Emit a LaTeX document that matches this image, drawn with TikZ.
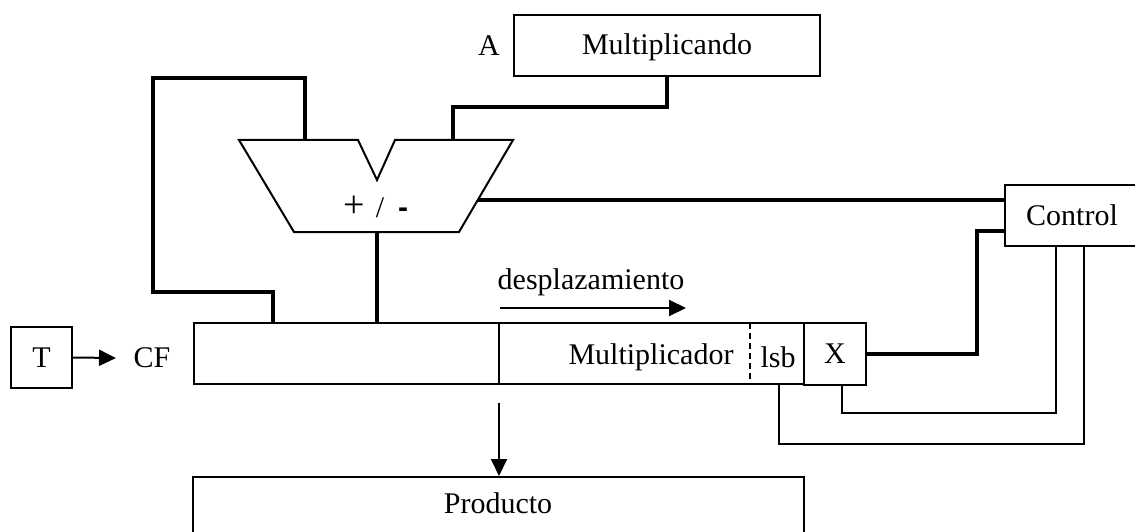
\documentclass[tikz,border=0pt]{standalone}
\usepackage{fontspec}
\setmainfont{Liberation Serif}
\newfontfamily\arialfont{Liberation Sans}
\usetikzlibrary{arrows.meta}
\begin{document}
\begin{tikzpicture}[x=1pt,y=-1pt,
  every node/.style={font=\fontsize{30}{36}\selectfont, inner sep=0pt},
  box/.style={draw, line width=2pt, fill=white},
  thin/.style={line width=2pt},
  bus/.style={line width=4.5pt},
  arr/.style={line width=2pt, -{Triangle[length=17pt,width=16pt]}}
]
\useasboundingbox (0,0) rectangle (1135,532);
\clip (0,0) rectangle (1135,532);

% Multiplicand register
\node[box, minimum width=306pt, minimum height=61pt] (mcand) at (667,45.5) {};
\node (mtext) at (667,47) {Multiplicando};
\node (alabel) at (489,46) {A};

% Adder/subtractor (ALU)
\coordinate (aluA) at (305,140);
\coordinate (aluB) at (453,140);
\coordinate (aluOut) at (377,232);
\coordinate (aluCtl) at (478,200);
\draw[thin, fill=white] (239,140) -- (358,140) -- (377,180) -- (395,140) -- (513,140)
   -- (459,232) -- (294,232) -- cycle;
\node[anchor=base] (aluplus) at (354,217) {\fontsize{38}{40}\selectfont +};
\node[anchor=base] (aluslash) at (380,217) {/};
\node[anchor=base] (aluminus) at (403,217) {\arialfont\bfseries -};

% Product/multiplier register
\node[box, minimum width=610pt, minimum height=61pt] (reg) at (499,353.5) {};
\draw[thin] (499,323) -- (499,384);
\draw[thin, dash pattern=on 6pt off 4pt] (750,323) -- (750,384);
\node (multtext) at (651,357) {Multiplicador};
\node (lsbtext) at (778,357) {lsb};
\coordinate (lsbBot) at (779,384);
\coordinate (regHi) at (273,323);
\coordinate (regIn) at (377,323);

% X bit
\node[box, minimum width=62pt, minimum height=62pt] (xbit) at (835,354) {X};

% Control unit
\node[box, minimum width=140pt, minimum height=61pt] (ctl) at (1075,215.5) {};
\node (ctltext) at (1072,215) {Control};

% Clock
\node[box, minimum width=61pt, minimum height=61pt] (tbox) at (41.5,357.5) {T};
\node (cf) at (152,358) {CF};

% Product
\node[box, minimum width=611pt, minimum height=90pt] (prod) at (498.5,522) {};
\node (prodtext) at (498,503) {Producto};

% Shift direction
\node (desp) at (591,282) {desplazamiento};
\coordinate (despA) at (500,308);
\coordinate (despB) at (686,308);
\draw[arr] (despA) -- (despB);

% Buses
\draw[bus] (mcand.south) -- (667,107) -| (aluB);
\draw[bus] (regHi) -- (273,292) -- (153,292) -- (153,78) -- (305,78) -- (aluA);
\draw[bus] (aluOut) -- (regIn);
\draw[bus] (aluCtl) -- (ctl.west |- aluCtl);
\draw[bus] (xbit.east) -- (977,354) |- (ctl.west |- 0,231);

% Control lines
\draw[thin] (ctl.south -| 1056,0) -- (1056,413) -| (xbit.south -| 842,0);
\draw[thin] (ctl.south -| 1084,0) -- (1084,444) -| (lsbBot);

% Clock and output arrows
\draw[arr] (tbox.east) -- (cf.west -| 116,0);
\coordinate (outTop) at (499,403);
\draw[arr] (outTop) -- (prod.north -| outTop);
\end{tikzpicture}
\end{document}
